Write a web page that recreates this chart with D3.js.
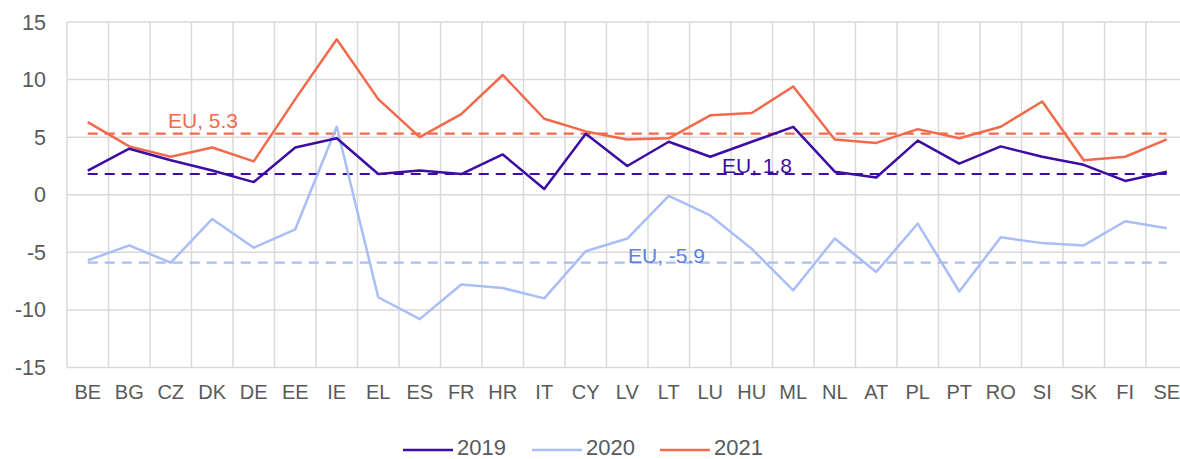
<!DOCTYPE html>
<html>
<head>
<meta charset="utf-8">
<script src="https://cdn.jsdelivr.net/npm/d3@7"></script>
<style>
  body { margin: 0; background: #fff; }
  text { font-family: "Liberation Sans", Arial, sans-serif; }
</style>
</head>
<body>
<script>
const countries = ["BE","BG","CZ","DK","DE","EE","IE","EL","ES","FR","HR","IT","CY","LV","LT","LU","HU","ML","NL","AT","PL","PT","RO","SI","SK","FI","SE"];
const v2019 = [2.1,4.0,3.0,2.1,1.1,4.1,4.9,1.8,2.1,1.8,3.5,0.5,5.3,2.5,4.6,3.3,4.6,5.9,2.0,1.5,4.7,2.7,4.2,3.3,2.6,1.2,2.0];
const v2020 = [-5.7,-4.4,-5.9,-2.1,-4.6,-3.0,5.9,-8.9,-10.8,-7.8,-8.1,-9.0,-4.9,-3.8,-0.1,-1.8,-4.7,-8.3,-3.8,-6.7,-2.5,-8.4,-3.7,-4.2,-4.4,-2.3,-2.9];
const v2021 = [6.3,4.2,3.3,4.1,2.9,8.3,13.5,8.3,5.0,7.0,10.4,6.6,5.5,4.8,4.9,6.9,7.1,9.4,4.8,4.5,5.7,4.9,5.9,8.1,3.0,3.3,4.8];
const euAvg = [1.8, -5.9, 5.3];
const years = ["2019","2020","2021"];
const yTicks = [-15,-10,-5,0,5,10,15];

const colors = ["#3c0ca3", "#a9bdf7", "#f3694b"];
const labelColors = ["#3c0ca3", "#5c80e0", "#f3694b"];
const seriesData = [v2019, v2020, v2021];

const width = 1180, height = 459;
const svg = d3.select("body").append("svg").attr("width", width).attr("height", height);

const x = d3.scaleBand().domain(countries).range([67, 1187.5]).padding(0);
const y = d3.scaleLinear().domain([-15, 15]).range([367.5, 22]);
const cx = d => x(d) + x.bandwidth() / 2;

// grid
svg.append("g").selectAll("line").data(yTicks).join("line")
  .attr("x1", 67).attr("x2", 1187.5)
  .attr("y1", d => y(d)).attr("y2", d => y(d))
  .attr("stroke", "#d9d9d9").attr("stroke-width", 1.5);
svg.append("g").selectAll("line").data(countries.concat(["_end"])).join("line")
  .attr("x1", (d, i) => 67 + i * x.bandwidth()).attr("x2", (d, i) => 67 + i * x.bandwidth())
  .attr("y1", y(15)).attr("y2", y(-15))
  .attr("stroke", "#d9d9d9").attr("stroke-width", 1.5);

// axis labels
svg.append("g").selectAll("text").data(yTicks).join("text")
  .attr("x", 46).attr("y", d => y(d) + 7.5)
  .attr("text-anchor", "end").attr("font-size", 21.5).attr("fill", "#595959")
  .text(d => d);
svg.append("g").selectAll("text").data(countries).join("text")
  .attr("x", d => cx(d)).attr("y", 399)
  .attr("text-anchor", "middle").attr("font-size", 20).attr("fill", "#595959")
  .text(d => d);

// EU averages
const first = countries[0], last = countries[countries.length - 1];
svg.append("g").selectAll("line").data(euAvg).join("line")
  .attr("x1", cx(first)).attr("x2", cx(last))
  .attr("y1", d => y(d)).attr("y2", d => y(d))
  .attr("stroke", (d, i) => colors[i]).attr("stroke-width", 2.2)
  .attr("stroke-dasharray", "10,7");

// series
const line = d3.line().x((d, i) => cx(countries[i])).y(d => y(d));
[1, 2, 0].forEach(i => {
  svg.append("path").datum(seriesData[i])
    .attr("d", line).attr("fill", "none")
    .attr("stroke", colors[i]).attr("stroke-width", 2.5)
    .attr("stroke-linejoin", "round");
});

// EU labels
const euLabelPos = [{c: "HU", dx: -9, dy: -1}, {c: "LT", dx: -20, dy: 0}, {c: "CZ", dx: 18, dy: -6}];
svg.append("g").selectAll("text").data(euAvg).join("text")
  .attr("x", (d, i) => x(euLabelPos[i].c) + euLabelPos[i].dx)
  .attr("y", (d, i) => y(d) + euLabelPos[i].dy)
  .attr("font-size", 21).attr("fill", (d, i) => labelColors[i])
  .text(d => "EU, " + d);

// legend
const legendX = [403, 532, 660];
const lg = svg.append("g").selectAll("g").data(years).join("g")
  .attr("transform", (d, i) => `translate(${legendX[i]},450)`);
lg.append("line").attr("x1", 0).attr("x2", 50).attr("y1", 0).attr("y2", 0)
  .attr("stroke", (d, i) => colors[i]).attr("stroke-width", 2.5);
lg.append("text").attr("x", 54).attr("y", 4.5).attr("font-size", 22).attr("fill", "#595959")
  .text(d => d);
</script>
</body>
</html>
